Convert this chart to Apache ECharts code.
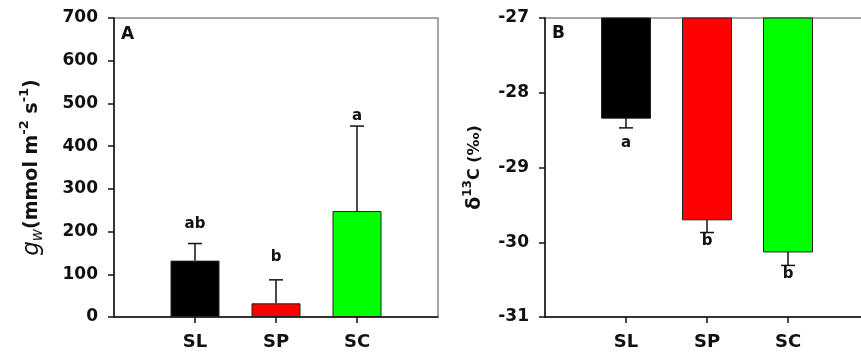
<!DOCTYPE html>
<html>
<head>
<meta charset="utf-8">
<script src="https://cdn.jsdelivr.net/npm/echarts@6/dist/echarts.min.js"></script>
<style>
  html, body { margin: 0; padding: 0; background: #fff; }
  #chart { width: 861px; height: 354px; }
</style>
</head>
<body>
<div id="chart"></div>
<script>
// groups and colours
const groups = ['SL', 'SP', 'SC'];
const barColors = ['#000000', '#ff0000', '#00ff00'];

// panel A: stomatal conductance gw
const gwMean = [132, 32, 248];
const gwUpper = [172, 87, 447];
const gwLetters = ['ab', 'b', 'a'];
const gwLetterAt = [217, 140, 470];
const gwAxis = [0, 700, 100]; // min, max, interval

// panel B: delta 13C
const d13Mean = [-28.34, -29.70, -30.13];
const d13Lower = [-28.47, -29.87, -30.31];
const d13Letters = ['a', 'b', 'b'];
const d13LetterAt = [-28.68, -29.99, -30.43];
const d13Axis = [-31, -27, 1];

const FONT = '"DejaVu Sans", "Liberation Sans", Arial, sans-serif';
const INK = '#111';

// categories padded with an empty slot on each side
const cats = [''].concat(groups).concat([' ']);

function xAxisFor(gridIndex) {
  return {
    type: 'category',
    gridIndex: gridIndex,
    data: cats,
    boundaryGap: false,
    axisLine: { lineStyle: { color: INK, width: 1.5 } },
    axisTick: {
      length: 6,
      lineStyle: { color: INK, width: 1.5 },
      interval: function (i) { return i > 0 && i < cats.length - 1; }
    },
    axisLabel: { interval: 0, margin: 16, color: INK, fontSize: 18, fontWeight: 'bold', fontFamily: FONT },
    splitLine: { show: false }
  };
}

function yAxisFor(gridIndex, ax, name, gap, rich) {
  return {
    type: 'value',
    gridIndex: gridIndex,
    min: ax[0], max: ax[1], interval: ax[2],
    name: name,
    nameLocation: 'middle',
    nameRotate: 90,
    nameGap: gap,
    nameTextStyle: { rich: rich },
    axisLine: { show: true, lineStyle: { color: INK, width: 1.5 } },
    axisTick: { show: true, length: 6, lineStyle: { color: INK, width: 1.5 } },
    axisLabel: { margin: 16, color: INK, fontSize: 17, fontWeight: 'bold', fontFamily: FONT },
    splitLine: { show: false }
  };
}

const nTxt = { fontSize: 19, fontWeight: 'bold', fontFamily: FONT, color: INK, lineHeight: 28, verticalAlign: 'middle' };
const supTxt = { fontSize: 13, fontWeight: 'bold', fontFamily: FONT, color: INK, lineHeight: 14, verticalAlign: 'top' };
const subTxt = { fontSize: 15, fontStyle: 'italic', fontFamily: FONT, color: INK, lineHeight: 16, verticalAlign: 'bottom' };
const richA = {
  g: { fontSize: 23, fontStyle: 'italic', fontFamily: FONT, color: INK, lineHeight: 28, verticalAlign: 'middle' },
  w: subTxt, n: nTxt, sup: supTxt
};
const richB = {
  d: { fontSize: 19, fontWeight: 'bold', fontFamily: FONT, color: INK, lineHeight: 26, verticalAlign: 'middle' },
  n: { fontSize: 16, fontWeight: 'bold', fontFamily: FONT, color: INK, lineHeight: 26, verticalAlign: 'middle' },
  sup: { fontSize: 12, fontWeight: 'bold', fontFamily: FONT, color: INK, lineHeight: 13, verticalAlign: 'top' }
};

function errRender(params, api) {
  const x = api.value(0);
  const p0 = api.coord([x, api.value(1)]);
  const p1 = api.coord([x, api.value(2)]);
  const st = { stroke: INK, lineWidth: 1.5 };
  return {
    type: 'group',
    children: [
      { type: 'line', shape: { x1: p0[0], y1: p0[1], x2: p1[0], y2: p1[1] }, style: st },
      { type: 'line', shape: { x1: p1[0] - 7, y1: p1[1], x2: p1[0] + 7, y2: p1[1] }, style: st }
    ]
  };
}

function letterRender(letters) {
  return function (params, api) {
    const p = api.coord([api.value(0), api.value(1)]);
    return {
      type: 'text', x: p[0], y: p[1],
      style: { text: letters[params.dataIndex], textAlign: 'center', textVerticalAlign: 'middle',
               fontSize: 15, fontWeight: 'bold', fontFamily: FONT, fill: INK }
    };
  };
}

// bars hanging from the top of panel B
function hangRender(params, api) {
  const x = api.value(0);
  const top = api.coord([x, d13Axis[1]]);
  const bot = api.coord([x, api.value(1)]);
  const w = 49;
  return {
    type: 'rect',
    shape: { x: top[0] - w / 2, y: top[1], width: w, height: bot[1] - top[1] },
    style: { fill: barColors[params.dataIndex], stroke: '#222', lineWidth: 1 }
  };
}

const chart = echarts.init(document.getElementById('chart'));
chart.setOption({
  animation: false,
  grid: [
    { left: 114, top: 18, width: 324, height: 299, outerBoundsMode: 'none', containLabel: false,
      show: true, borderColor: '#888', borderWidth: 1.5 },
    { left: 545, top: 18, width: 324, height: 299, outerBoundsMode: 'none', containLabel: false,
      show: true, borderColor: '#888', borderWidth: 1.5 }
  ],
  xAxis: [xAxisFor(0), xAxisFor(1)],
  yAxis: [
    yAxisFor(0, gwAxis, '{g|g}{w|w}{n|(mmol m}{sup|-2}{n| s}{sup|-1}{n|)}', 68, richA),
    yAxisFor(1, d13Axis, '{d|δ}{sup|13}{n|C (‰)}', 57, richB)
  ],
  graphic: [
    { type: 'text', x: 121, y: 35, style: { text: 'A', fontSize: 17, fontWeight: 'bold', fontFamily: FONT, fill: INK, textVerticalAlign: 'middle' } },
    { type: 'text', x: 552, y: 34, style: { text: 'B', fontSize: 17, fontWeight: 'bold', fontFamily: FONT, fill: INK, textVerticalAlign: 'middle' } }
  ],
  series: [
    {
      type: 'bar', xAxisIndex: 0, yAxisIndex: 0, barWidth: 49,
      data: gwMean.map(function (v, i) {
        return { value: [i + 1, v], itemStyle: { color: barColors[i], borderColor: '#222', borderWidth: 1 } };
      })
    },
    {
      type: 'custom', xAxisIndex: 0, yAxisIndex: 0, renderItem: errRender,
      data: gwMean.map(function (v, i) { return [i + 1, v, gwUpper[i]]; })
    },
    {
      type: 'custom', xAxisIndex: 0, yAxisIndex: 0, renderItem: letterRender(gwLetters),
      data: gwLetterAt.map(function (v, i) { return [i + 1, v]; })
    },
    {
      type: 'custom', xAxisIndex: 1, yAxisIndex: 1, renderItem: hangRender,
      data: d13Mean.map(function (v, i) { return [i + 1, v]; })
    },
    {
      type: 'custom', xAxisIndex: 1, yAxisIndex: 1, renderItem: errRender,
      data: d13Mean.map(function (v, i) { return [i + 1, v, d13Lower[i]]; })
    },
    {
      type: 'custom', xAxisIndex: 1, yAxisIndex: 1, renderItem: letterRender(d13Letters),
      data: d13LetterAt.map(function (v, i) { return [i + 1, v]; })
    }
  ]
});
</script>
</body>
</html>
